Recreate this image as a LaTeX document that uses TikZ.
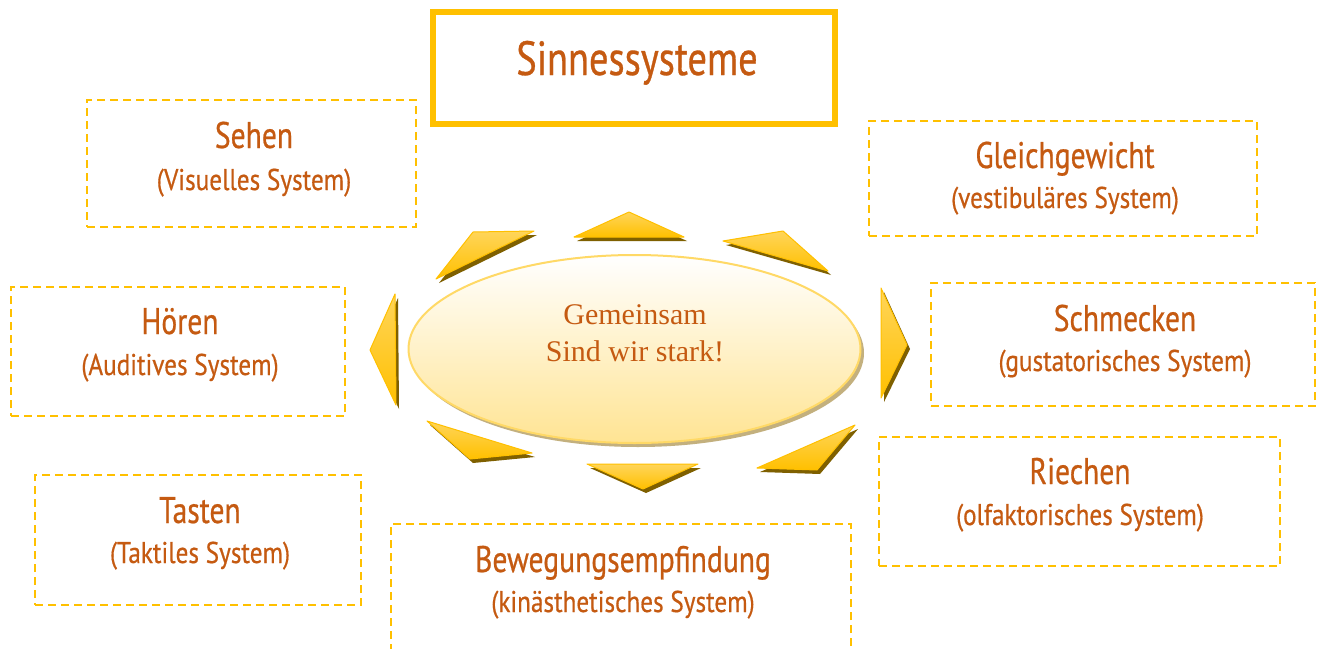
\documentclass[tikz,border=0pt]{standalone}
\usepackage{fontspec}
\usetikzlibrary{shapes.geometric}
\setmainfont{Liberation Serif}
\newfontfamily\labfont[FakeStretch=0.8, FakeBold=0.6]{PT Sans}
\newfontfamily\subfont[FakeStretch=0.84, FakeBold=0.5]{PT Sans}
\definecolor{gold}{HTML}{FFC000}
\definecolor{goldlt}{HTML}{FFD55A}
\definecolor{txt}{HTML}{C55A11}
\definecolor{shad}{HTML}{7F6000}
\definecolor{eshad}{HTML}{C3B07E}
\definecolor{erim}{HTML}{FFD966}
\definecolor{efill}{HTML}{FFE493}
\newcommand\sunray[3]{%
  \begin{scope}[shift={(3,4)}]
    \fill[shad] (#1) -- (#2) -- (#3) -- cycle;
  \end{scope}
  \shade[top color=goldlt, bottom color=gold, draw=gold, line width=1pt, line join=round] (#1) -- (#2) -- (#3) -- cycle;}
\begin{document}
\begin{tikzpicture}[x=1pt, y=-1pt,
  dashbox/.style={draw=gold, line width=2pt, dash pattern=on 8pt off 5pt, rectangle, inner sep=0pt},
  headtxt/.style={text=txt, anchor=base, inner sep=0pt, font=\labfont\fontsize{37}{42}\selectfont},
  subtxt/.style={text=txt, anchor=base, inner sep=0pt, font=\subfont\fontsize{30}{35}\selectfont},
  serif/.style={text=txt, anchor=base, inner sep=0pt, font=\fontsize{30}{36}\selectfont}]
\clip (0,0) rectangle (1327,648);
\fill[white] (0,0) rectangle (1327,648);

% title
\node[draw=gold, line width=6pt, rectangle, minimum width=402pt, minimum height=112pt, inner sep=0pt] (title) at (634,68) {};
\node[text=txt, anchor=base, inner sep=0pt, font=\labfont\fontsize{48}{54}\selectfont] (titletxt) at (637,75) {Sinnessysteme};

% rays
\sunray{473,232}{534,231}{436,279}
\sunray{629,212}{684,237}{574,237}
\sunray{723,241}{783,231}{828,271}
\sunray{881,288}{907,345}{881,398}
\sunray{855,425}{817,470}{757,468}
\sunray{587,464}{698,464}{643,489}
\sunray{427,421}{532,453}{470,459}
\sunray{370,350}{395,294}{396,405}

% central ellipse
\node[ellipse, fill=eshad, minimum width=452pt, minimum height=188pt, inner sep=0pt] (eshadow) at (638,353) {};
\node[ellipse, top color=white, bottom color=efill, draw=erim, line width=2pt, minimum width=452pt, minimum height=188pt, inner sep=0pt] (center) at (634.5,349) {};
\node[serif] (gem) at (635,324) {Gemeinsam};
\node[serif] (stark) at (635,361) {Sind wir stark!};

% boxes
\node[dashbox, minimum width=329pt, minimum height=127pt] (sehen) at (251.5,163.5) {};
\node[headtxt] (sehenA) at (254,148) {Sehen};
\node[subtxt] (sehenB) at (254,190) {(Visuelles System)};

\node[dashbox, minimum width=388pt, minimum height=115pt] (gleich) at (1063,178.5) {};
\node[headtxt] (gleichA) at (1065,168) {Gleichgewicht};
\node[subtxt] (gleichB) at (1065,208) {(vestibuläres System)};

\node[dashbox, minimum width=334pt, minimum height=129pt] (hoeren) at (178,351.5) {};
\node[headtxt] (hoerenA) at (180,334) {Hören};
\node[subtxt] (hoerenB) at (180,375) {(Auditives System)};

\node[dashbox, minimum width=384pt, minimum height=123pt] (schmeck) at (1123,344.5) {};
\node[headtxt] (schmeckA) at (1125,331) {Schmecken};
\node[subtxt] (schmeckB) at (1125,371) {(gustatorisches System)};

\node[dashbox, minimum width=326pt, minimum height=130pt] (tasten) at (198,540) {};
\node[headtxt] (tastenA) at (200,523) {Tasten};
\node[subtxt] (tastenB) at (200,563) {(Taktiles System)};

\node[dashbox, minimum width=401pt, minimum height=129pt] (riechen) at (1079.5,501.5) {};
\node[headtxt] (riechenA) at (1080,484) {Riechen};
\node[subtxt] (riechenB) at (1080,525) {(olfaktorisches System)};

\node[dashbox, minimum width=460pt, minimum height=156pt] (beweg) at (621,602) {};
\node[headtxt] (bewegA) at (623,572) {Bewegungsempfindung};
\node[subtxt] (bewegB) at (623,612) {(kinästhetisches System)};
\end{tikzpicture}
\end{document}
